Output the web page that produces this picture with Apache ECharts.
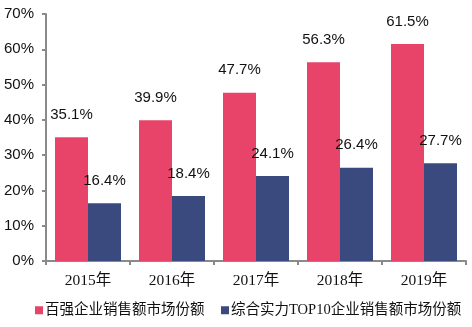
<!DOCTYPE html>
<html><head><meta charset="utf-8">
<script src="https://cdn.jsdelivr.net/npm/echarts@6/dist/echarts.min.js"></script>
<style>html,body{margin:0;padding:0;background:#fff}#c{width:472px;height:327px}</style>
</head><body><div id="c"></div>
<script>
const categories = ['2015年','2016年','2017年','2018年','2019年'];
const top100Share = [35.1, 39.9, 47.7, 56.3, 61.5];
const top10Share = [16.4, 18.4, 24.1, 26.4, 27.7];
const seriesNames = ['百强企业销售额市场份额','综合实力TOP10企业销售额市场份额'];
const yTicks = [0,10,20,30,40,50,60,70];

const chart = echarts.init(document.getElementById('c'));
const lbl = {show:true, position:'top', distance:15, color:'#111', fontFamily:'Liberation Sans, Arial', fontSize:15, formatter: p => p.value.toFixed(1) + '%'};
const legendBase = {top:303, itemWidth:8, itemHeight:8, padding:0, width:300,
    icon:'rect', textStyle:{fontFamily:'Liberation Serif, Noto Sans CJK SC', fontSize:14.5, color:'#111', padding:[0,0,0,-3]}};
chart.setOption({
  animation:false,
  grid:{left:46, right:6, top:14, bottom:66},
  legend:[
    Object.assign({left:35, data:[seriesNames[0]]}, legendBase),
    Object.assign({left:221, data:[seriesNames[1]]}, legendBase)
  ],
  xAxis:{type:'category', data:categories,
    axisLine:{lineStyle:{color:'#8a8a8a', width:2}},
    axisTick:{show:true, length:4, lineStyle:{color:'#8a8a8a', width:2}},
    axisLabel:{fontFamily:'Liberation Serif, Noto Sans CJK SC', fontSize:15.5, color:'#111', margin:12}},
  yAxis:{type:'value', min:0, max:70, interval:10,
    axisLine:{show:true, lineStyle:{color:'#8a8a8a', width:2}},
    axisTick:{show:true, length:4, lineStyle:{color:'#8a8a8a', width:2}},
    splitLine:{show:false},
    axisLabel:{fontFamily:'Liberation Sans, Arial', fontSize:15, color:'#111', margin:12,
      formatter: v => yTicks.includes(v) ? v + '%' : ''}},
  series:[
    {name:seriesNames[0], type:'bar', data:top100Share, barWidth:33, barGap:'0%', itemStyle:{color:'#E8446A'}, label:lbl},
    {name:seriesNames[1], type:'bar', data:top10Share, barWidth:33, barGap:'0%', itemStyle:{color:'#3A4A7E'}, label:lbl}
  ]
});
</script></body></html>
